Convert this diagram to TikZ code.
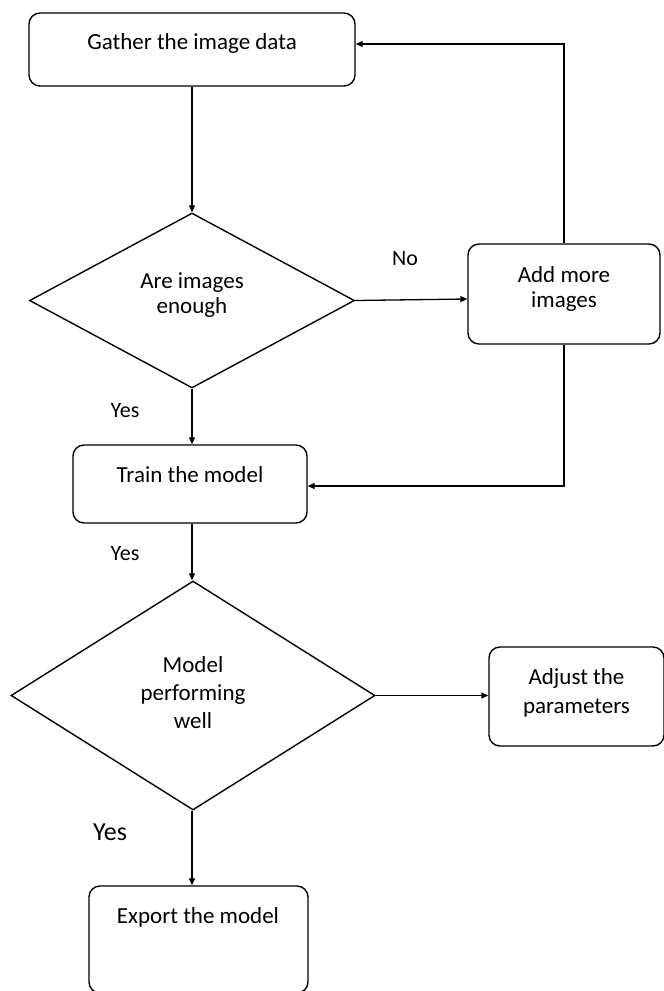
\documentclass[tikz,border=0pt]{standalone}
\usepackage{fontspec}
\setmainfont{Carlito}
\usetikzlibrary{shapes.geometric,arrows.meta}
\begin{document}
\begin{tikzpicture}[x=1pt,y=-1pt,
  box/.style={draw=black,line width=1.4pt,rounded corners=11pt,inner sep=0pt},
  dia/.style={draw=black,line width=1.4pt,diamond,inner sep=0pt},
  txt/.style={font=\fontsize{23}{25}\selectfont,align=center,inner sep=0pt},
  lbl/.style={font=\fontsize{22}{25}\selectfont,inner sep=0pt},
  arr/.style={line width=1.3pt,-{Triangle[length=7pt,width=6pt]}},
  ln/.style={line width=1.3pt}]
\useasboundingbox (0,0) rectangle (664,991);
% shapes
\node[box,minimum width=326pt,minimum height=73pt] (gather) at (192,49.5) {};
\node[txt] (gathert) at (192,43) {Gather the image data};
\node[dia,minimum width=325pt,minimum height=175pt] (d1) at (192,300.5) {};
\node[txt] (d1t) at (192,295) {Are images\\enough};
\node[box,minimum width=192pt,minimum height=100pt] (add) at (564,294) {};
\node[txt] (addt) at (564,288.5) {Add more\\images};
\node[box,minimum width=234pt,minimum height=78pt] (train) at (190,484) {};
\node[txt] (traint) at (190,475) {Train the model};
\node[dia,minimum width=364pt,minimum height=229pt] (d2) at (193,695.5) {};
\node[txt,font=\fontsize{23}{28}\selectfont] (d2t) at (193,693) {Model\\performing\\well};
\node[box,minimum width=175pt,minimum height=99pt] (adjust) at (576.5,696.5) {};
\node[txt,font=\fontsize{23}{29}\selectfont] (adjustt) at (576.5,692.5) {Adjust the\\parameters};
\node[box,minimum width=219pt,minimum height=107pt] (export) at (198.5,939.5) {};
\node[txt] (exportt) at (198,917) {Export the model};
% labels
\node[lbl] (no) at (405,259) {No};
\node[lbl] (yes1) at (125,411) {Yes};
\node[lbl] (yes2) at (125,554) {Yes};
\node[lbl,font=\fontsize{26}{30}\selectfont] (yes3) at (110,832) {Yes};
% connectors
\coordinate (gin) at ([yshift=5.5pt]gather.east);
\draw[arr] (gather.south) -- (d1.north);
\draw[arr] (d1.east) -- ([yshift=1.5pt]d1.east -| add.west);
\draw[arr] (add.north) |- (gin);
\draw[arr] (add.south) |- ([yshift=-2pt]train.east);
\draw[arr] (d1.south) -- (d1.south |- train.north);
\draw[arr] (d1.south |- train.south) -- (d1.south |- d2.north);
\draw[arr] (d2.east) -- (d2.east -| adjust.west);
\draw[arr] (d1.south |- d2.south) -- (d1.south |- export.north);
\end{tikzpicture}
\end{document}
